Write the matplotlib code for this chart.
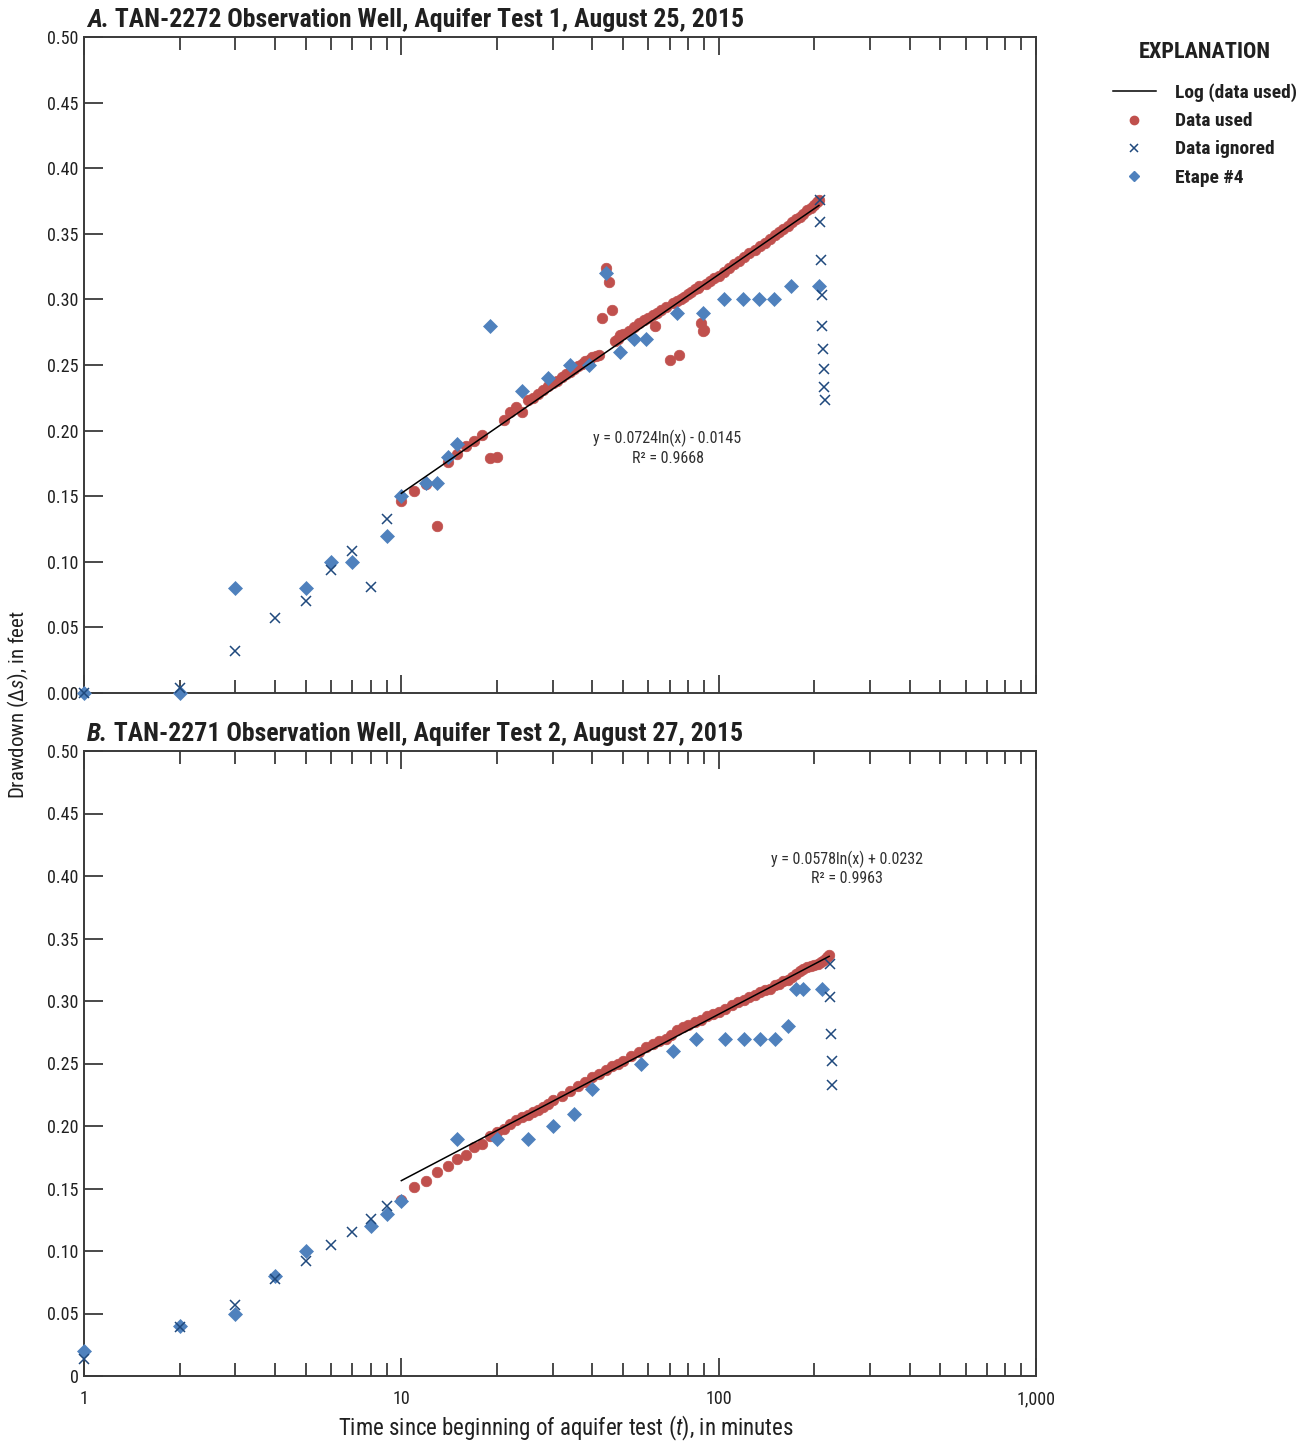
import numpy as np
import matplotlib
matplotlib.use('Agg')
import matplotlib.pyplot as plt
from matplotlib import font_manager
from matplotlib.lines import Line2D
from matplotlib.ticker import FixedLocator, FixedFormatter, NullFormatter

avail = {f.name for f in font_manager.fontManager.ttflist}
prefs = ['Roboto Condensed', 'DejaVu Sans Condensed', 'Liberation Sans Narrow',
         'Open Sans Condensed', 'Noto Sans Condensed', 'Roboto', 'Liberation Sans']
MAIN = next((p for p in prefs if p in avail), 'DejaVu Sans')
FONT = [MAIN, 'DejaVu Sans']
plt.rcParams['font.family'] = FONT
plt.rcParams['mathtext.fontset'] = 'custom'
plt.rcParams['mathtext.rm'] = MAIN
plt.rcParams['mathtext.it'] = MAIN + ':italic'
plt.rcParams['mathtext.bf'] = MAIN + ':bold'
NARROW = MAIN in ('Roboto Condensed', 'DejaVu Sans Condensed', 'Liberation Sans Narrow',
                  'Open Sans Condensed', 'Noto Sans Condensed')
FS = 1.0 if NARROW else 0.86

# ---------------- Panel A data ----------------
titleA_letter = "A."
titleA_rest = " TAN-2272 Observation Well, Aquifer Test 1, August 25, 2015"

tA_used = [10, 11, 12, 13, 14, 15, 16, 17, 18, 19, 20, 21, 22, 23, 24, 25, 26, 27, 28, 29,
           30, 31, 32, 33, 34, 35, 36, 37, 38, 39, 40, 41, 42, 43, 44, 45, 46, 47, 48, 49,
           50, 52, 54, 56, 58, 60, 62, 63, 64, 66, 68, 70, 72, 74, 75, 76, 78, 80, 82, 84,
           86, 87, 88, 89, 90, 91, 94, 97, 100, 104, 108, 112, 116, 120, 125, 130, 135, 140,
           145, 150, 155, 160, 165, 170, 175, 180, 185, 190, 195, 200, 204, 207]
sA_used = [0.146, 0.154, 0.159, 0.127, 0.176, 0.182, 0.188, 0.192, 0.197, 0.179, 0.180, 0.208,
           0.214, 0.218, 0.214, 0.223, 0.225, 0.228, 0.231, 0.234, 0.236, 0.238, 0.241, 0.243,
           0.245, 0.247, 0.249, 0.251, 0.253, 0.254, 0.256, 0.257, 0.258, 0.286, 0.324, 0.313,
           0.292, 0.268, 0.270, 0.273, 0.274, 0.276, 0.279, 0.282, 0.284, 0.286, 0.288, 0.280,
           0.290, 0.292, 0.294, 0.254, 0.297, 0.299, 0.258, 0.300, 0.302, 0.304, 0.306, 0.308,
           0.309, 0.310, 0.282, 0.276, 0.277, 0.312, 0.314, 0.316, 0.318, 0.321, 0.324, 0.327,
           0.329, 0.332, 0.335, 0.338, 0.341, 0.343, 0.346, 0.349, 0.351, 0.354, 0.356, 0.359,
           0.361, 0.363, 0.365, 0.368, 0.370, 0.372, 0.374, 0.376]

tA_ign = [1, 2, 3, 4, 5, 6, 7, 8, 9, 208, 209, 210, 211, 212, 213, 214, 215, 216]
sA_ign = [0.0, 0.004, 0.032, 0.057, 0.070, 0.094, 0.108, 0.081, 0.133,
          0.376, 0.359, 0.330, 0.303, 0.280, 0.262, 0.247, 0.233, 0.223]

tA_etape = [1, 2, 3, 5, 6, 7, 9, 10, 12, 13, 14, 15, 19, 24, 29, 34, 39, 44, 49, 54, 59,
            74, 89, 104, 119, 134, 149, 169, 207]
sA_etape = [0.00, 0.00, 0.08, 0.08, 0.10, 0.10, 0.12, 0.15, 0.16, 0.16, 0.18, 0.19, 0.28, 0.23,
            0.24, 0.25, 0.25, 0.32, 0.26, 0.27, 0.27, 0.29, 0.29, 0.30, 0.30, 0.30, 0.30, 0.31, 0.31]

fitA_coef = (0.0724, -0.0145)
fitA_range = (10, 207)
eqA_text = "y = 0.0724ln(x) - 0.0145\nR² = 0.9668"

# ---------------- Panel B data ----------------
titleB_letter = "B."
titleB_rest = " TAN-2271 Observation Well, Aquifer Test 2, August 27, 2015"

tB_used = [10, 11, 12, 13, 14, 15, 16, 17, 18, 19, 20, 21, 22, 23, 24, 25, 26, 27, 28, 29,
           30, 32, 34, 36, 38, 40, 42, 44, 46, 48, 50, 53, 56, 59, 62, 65, 68, 71, 74, 77,
           80, 84, 88, 92, 96, 100, 105, 110, 115, 120, 125, 130, 135, 140, 145, 150, 155,
           160, 165, 170, 175, 180, 185, 190, 195, 200, 205, 210, 215, 219, 223]
sB_used = [0.141, 0.151, 0.156, 0.163, 0.168, 0.174, 0.177, 0.183, 0.186, 0.192, 0.195, 0.198,
           0.202, 0.205, 0.207, 0.209, 0.211, 0.213, 0.215, 0.218, 0.221, 0.224, 0.228, 0.232,
           0.235, 0.239, 0.242, 0.245, 0.248, 0.250, 0.252, 0.256, 0.259, 0.263, 0.266, 0.268,
           0.270, 0.273, 0.277, 0.279, 0.281, 0.283, 0.285, 0.288, 0.290, 0.291, 0.294, 0.297,
           0.299, 0.301, 0.303, 0.305, 0.307, 0.309, 0.310, 0.313, 0.314, 0.316, 0.317, 0.319,
           0.322, 0.324, 0.326, 0.327, 0.328, 0.329, 0.330, 0.331, 0.333, 0.335, 0.337]

tB_ign = [1, 2, 3, 4, 5, 6, 7, 8, 9, 224, 225, 226, 227, 228]
sB_ign = [0.014, 0.039, 0.057, 0.078, 0.092, 0.105, 0.115, 0.126, 0.136,
          0.330, 0.303, 0.274, 0.252, 0.233]

tB_etape = [1, 2, 3, 4, 5, 8, 9, 10, 15, 20, 25, 30, 35, 40, 57, 72, 85, 105, 120, 135,
            150, 165, 175, 185, 212]
sB_etape = [0.02, 0.04, 0.05, 0.08, 0.10, 0.12, 0.13, 0.14, 0.19, 0.19, 0.19, 0.20, 0.21,
            0.23, 0.25, 0.26, 0.27, 0.27, 0.27, 0.27, 0.27, 0.28, 0.31, 0.31, 0.31]

fitB_coef = (0.0578, 0.0232)
fitB_range = (10, 223)
eqB_text = "y = 0.0578ln(x) + 0.0232\nR² = 0.9963"

# ---------------- common axis data ----------------
y_ticks = [0.00, 0.05, 0.10, 0.15, 0.20, 0.25, 0.30, 0.35, 0.40, 0.45, 0.50]
y_labels_A = ["0.00", "0.05", "0.10", "0.15", "0.20", "0.25", "0.30", "0.35", "0.40", "0.45", "0.50"]
y_labels_B = ["0", "0.05", "0.10", "0.15", "0.20", "0.25", "0.30", "0.35", "0.40", "0.45", "0.50"]
x_major = [1, 10, 100, 1000]
x_major_labels = ["1", "10", "100", "1,000"]

RED = '#C0504D'
BLUE = '#4F81BD'
DKBLUE = '#1F497D'
AXC = '#3a3a3a'

fig = plt.figure(figsize=(13.02, 14.44), dpi=100)
W, H = 1302.0, 1444.0
axA = fig.add_axes([84 / W, 1 - 693 / H, (1036 - 84) / W, (693 - 37) / H])
axB = fig.add_axes([84 / W, 1 - 1376 / H, (1036 - 84) / W, (1376 - 751) / H])


def draw(ax, tu, su, ti, si, te, se, coef, rng, eq, eqpos, ylabels, letter, rest, show_x):
    ax.plot(tu, su, linestyle='none', marker='o', ms=7.6, color=RED, mec=RED, mew=0.5,
            zorder=2, clip_on=False)
    ax.plot(te, se, linestyle='none', marker='D', ms=7.2, color=BLUE, mec=BLUE, mew=0.5,
            zorder=3, clip_on=False)
    ax.plot(ti, si, linestyle='none', marker='x', ms=6.5, color=DKBLUE, mew=1.1,
            zorder=4, clip_on=False)
    tt = np.geomspace(rng[0], rng[1], 100)
    ax.plot(tt, coef[0] * np.log(tt) + coef[1], color='black', lw=1.1, zorder=5)
    ax.text(eqpos[0], eqpos[1], eq, ha='center', va='center', fontsize=11.5 * FS,
            color='#303030', linespacing=1.3)
    ax.set_xscale('log')
    ax.set_xlim(1, 1000)
    ax.set_ylim(0, 0.5)
    ax.xaxis.set_major_locator(FixedLocator(x_major))
    minors = [m * 10 ** d for d in range(3) for m in range(2, 10)]
    ax.xaxis.set_minor_locator(FixedLocator(minors))
    ax.xaxis.set_minor_formatter(NullFormatter())
    if show_x:
        ax.xaxis.set_major_formatter(FixedFormatter(x_major_labels))
    else:
        ax.xaxis.set_major_formatter(NullFormatter())
    ax.yaxis.set_major_locator(FixedLocator(y_ticks))
    ax.yaxis.set_major_formatter(FixedFormatter(ylabels))
    ax.tick_params(axis='x', which='major', direction='in', length=13, width=1.3,
                   top=True, bottom=True, color=AXC, labelsize=13 * FS, pad=10, labelcolor='#202020')
    ax.tick_params(axis='x', which='minor', direction='in', length=9.5, width=1.3,
                   top=True, bottom=True, color=AXC)
    ax.tick_params(axis='y', which='major', direction='in', length=14, width=1.3,
                   left=True, right=False, color=AXC, labelsize=13 * FS, pad=4, labelcolor='#202020')
    for sp in ax.spines.values():
        sp.set_color(AXC)
        sp.set_linewidth(1.4)
    t1 = ax.text(0.003, 1.008, letter, transform=ax.transAxes, fontsize=18.5 * FS,
                 fontweight='bold', fontstyle='italic', ha='left', va='bottom', color='#202020')
    ax.annotate(rest, xy=(1, 0), xycoords=t1, fontsize=18.5 * FS, fontweight='bold',
                ha='left', va='bottom', color='#202020')


draw(axA, tA_used, sA_used, tA_ign, sA_ign, tA_etape, sA_etape, fitA_coef, fitA_range,
     eqA_text, (69, 0.187), y_labels_A, titleA_letter, titleA_rest, False)
draw(axB, tB_used, sB_used, tB_ign, sB_ign, tB_etape, sB_etape, fitB_coef, fitB_range,
     eqB_text, (254, 0.406), y_labels_B, titleB_letter, titleB_rest, True)

fig.text(18 / W, 1 - 705 / H, r"Drawdown ($\Delta s$), in feet", rotation=90,
         ha='center', va='center', fontsize=15 * FS, color='#202020')
fig.text(566 / W, 1 - 1428 / H, r"Time since beginning of aquifer test ($t$), in minutes",
         ha='center', va='center', fontsize=16.5 * FS, color='#202020')

handles = [
    Line2D([], [], color='black', lw=1.1),
    Line2D([], [], linestyle='none', marker='o', ms=6, color=RED),
    Line2D([], [], linestyle='none', marker='x', ms=5.5, color=DKBLUE, mew=1.1),
    Line2D([], [], linestyle='none', marker='D', ms=5, color=BLUE),
]
labels = ["Log (data used)", "Data used", "Data ignored", "Etape #4"]
leg = fig.legend(handles, labels, loc='upper left', bbox_to_anchor=(1099 / W, 1 - 27 / H),
                 frameon=False, title="EXPLANATION", handlelength=2.25, handletextpad=0.95,
                 labelspacing=0.52, borderpad=0.2,
                 prop={'family': FONT, 'weight': 'bold', 'size': 14 * FS},
                 title_fontproperties={'family': FONT, 'weight': 'bold', 'size': 16 * FS})
leg._legend_box.sep = 15
leg._legend_box.align = 'center'
for txt in leg.get_texts():
    txt.set_color('#202020')
leg.get_title().set_color('#202020')

fig.savefig('out.png', dpi=100)
